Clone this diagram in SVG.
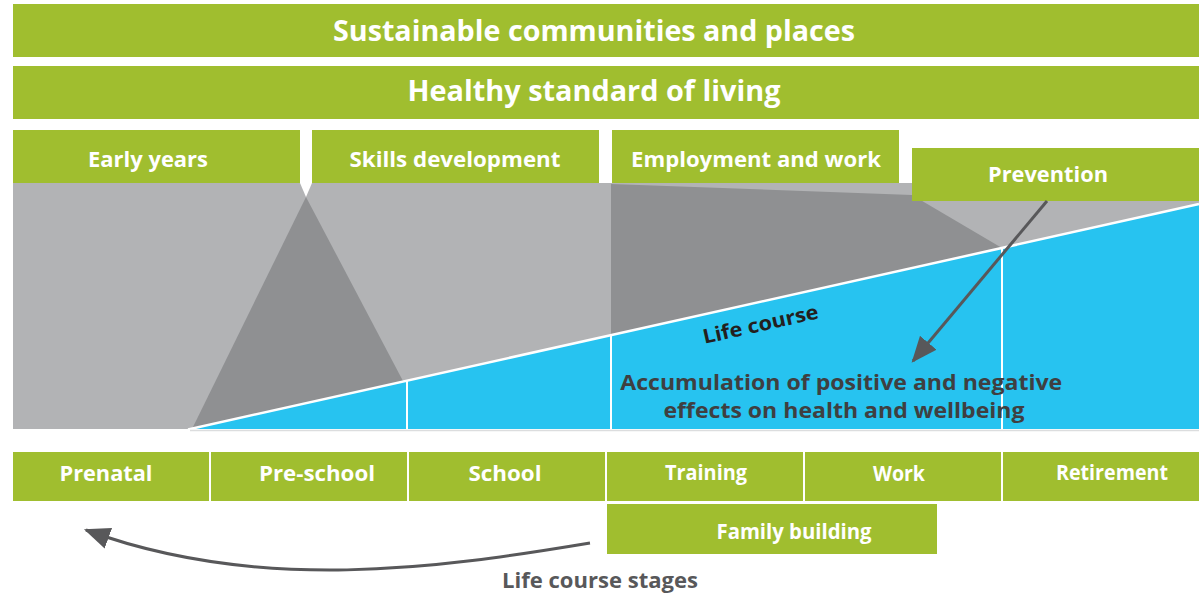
<svg xmlns="http://www.w3.org/2000/svg" width="1200" height="595" viewBox="0 0 1200 595">
  <defs>
    <style>
      .box { fill: #a0be2f; }
      .lbl { font-family: "Open Sans", "Liberation Sans", sans-serif; font-weight: 700; fill: #ffffff; text-anchor: middle; }
      .big { font-size: 29px; }
      .mid { font-size: 22px; }
      .stage { font-size: 22px; }
      .dark { font-family: "Open Sans", "Liberation Sans", sans-serif; font-weight: 700; text-anchor: middle; }
      .divider { stroke: #ffffff; stroke-width: 2; fill: none; }
    </style>
    <marker id="headBig" viewBox="0 0 12 10" refX="11" refY="5" markerWidth="26" markerHeight="22" markerUnits="userSpaceOnUse" orient="auto">
      <path d="M0 0 L12 5 L0 10 Z" fill="#58585a"/>
    </marker>
  </defs>

  <!-- background field of the life-course chart -->
  <g id="field">
    <rect x="13" y="183" width="1186" height="246" fill="#b2b3b5"/>
    <polygon points="300,183 306,197 312,183" fill="#ffffff"/>
    <polygon points="306,197 403,381 192,429" fill="#8f9092"/>
    <polygon points="611,184 912,195 1002,248 611,335" fill="#8f9092"/>
    <polygon points="190,429 1199,204 1199,429" fill="#27c3f0"/>
    <line x1="188" y1="429.5" x2="1199" y2="204" stroke="#ffffff" stroke-width="2.5"/>
    <line class="divider" x1="407" y1="381" x2="407" y2="429"/>
    <line class="divider" x1="611" y1="335" x2="611" y2="429"/>
    <line class="divider" x1="1002" y1="248" x2="1002" y2="429"/>
    <line x1="190" y1="430.5" x2="1199" y2="430.5" stroke="#dcddde" stroke-width="1.5"/>
    <text class="dark" x="762" y="331" font-size="20" fill="#231f20" textLength="118" lengthAdjust="spacingAndGlyphs" transform="rotate(-12.6 762 331)">Life course</text>
    <text class="dark" font-size="21" fill="#3f3f41" font-weight="600">
      <tspan x="844" y="390" textLength="442" lengthAdjust="spacingAndGlyphs">Accumulation of positive and negative</tspan>
      <tspan x="844" y="418" textLength="361" lengthAdjust="spacingAndGlyphs">effects on health and wellbeing</tspan>
    </text>
  </g>

  <!-- overarching determinants -->
  <g id="sustainable">
    <rect class="box" x="13" y="4" width="1186" height="53"/>
    <text class="lbl big" x="594" y="41" textLength="522" lengthAdjust="spacingAndGlyphs">Sustainable communities and places</text>
  </g>
  <g id="healthy">
    <rect class="box" x="13" y="66" width="1186" height="53"/>
    <text class="lbl big" x="594" y="101" textLength="373" lengthAdjust="spacingAndGlyphs">Healthy standard of living</text>
  </g>

  <!-- policy areas -->
  <g id="early-years">
    <rect class="box" x="13" y="130" width="287" height="53"/>
    <text class="lbl mid" x="148" y="167" textLength="120" lengthAdjust="spacingAndGlyphs">Early years</text>
  </g>
  <g id="skills">
    <rect class="box" x="312" y="130" width="287" height="53"/>
    <text class="lbl mid" x="455" y="167" textLength="211" lengthAdjust="spacingAndGlyphs">Skills development</text>
  </g>
  <g id="employment">
    <rect class="box" x="612" y="130" width="287" height="53"/>
    <text class="lbl mid" x="756" y="167" textLength="250" lengthAdjust="spacingAndGlyphs">Employment and work</text>
  </g>
  <g id="prevention">
    <rect class="box" x="912" y="148" width="287" height="53"/>
    <text class="lbl mid" x="1048" y="182" textLength="120" lengthAdjust="spacingAndGlyphs">Prevention</text>
  </g>

  <!-- life course stages -->
  <g id="prenatal">
    <rect class="box" x="13" y="452" width="196" height="49"/>
    <text class="lbl stage" x="106" y="481" textLength="93" lengthAdjust="spacingAndGlyphs">Prenatal</text>
  </g>
  <g id="pre-school">
    <rect class="box" x="211" y="452" width="196" height="49"/>
    <text class="lbl stage" x="317" y="481" textLength="116" lengthAdjust="spacingAndGlyphs">Pre-school</text>
  </g>
  <g id="school">
    <rect class="box" x="409" y="452" width="196" height="49"/>
    <text class="lbl stage" x="505" y="481" textLength="73" lengthAdjust="spacingAndGlyphs">School</text>
  </g>
  <g id="training">
    <rect class="box" x="607" y="452" width="196" height="49"/>
    <text class="lbl stage" x="706" y="480" font-size="20" textLength="82" lengthAdjust="spacingAndGlyphs">Training</text>
  </g>
  <g id="work">
    <rect class="box" x="805" y="452" width="196" height="49"/>
    <text class="lbl stage" x="899" y="481" font-size="20" textLength="52" lengthAdjust="spacingAndGlyphs">Work</text>
  </g>
  <g id="retirement">
    <rect class="box" x="1003" y="452" width="196" height="49"/>
    <text class="lbl stage" x="1112" y="480" font-size="20" textLength="112" lengthAdjust="spacingAndGlyphs">Retirement</text>
  </g>
  <g id="family-building">
    <rect class="box" x="607" y="504" width="330" height="50"/>
    <text class="lbl stage" x="794" y="539" font-size="21" textLength="155" lengthAdjust="spacingAndGlyphs">Family building</text>
  </g>

  <!-- connectors -->
  <g id="connectors" fill="none" stroke="#58585a">
    <line x1="1047" y1="201" x2="913" y2="361" stroke-width="3" marker-end="url(#headBig)"/>
    <path d="M590 543 C 440 568, 260 594, 86 530" stroke-width="3" marker-end="url(#headBig)"/>
  </g>

  <text class="dark" x="600" y="588" font-size="21" fill="#58585a" textLength="196" lengthAdjust="spacingAndGlyphs">Life course stages</text>
</svg>
